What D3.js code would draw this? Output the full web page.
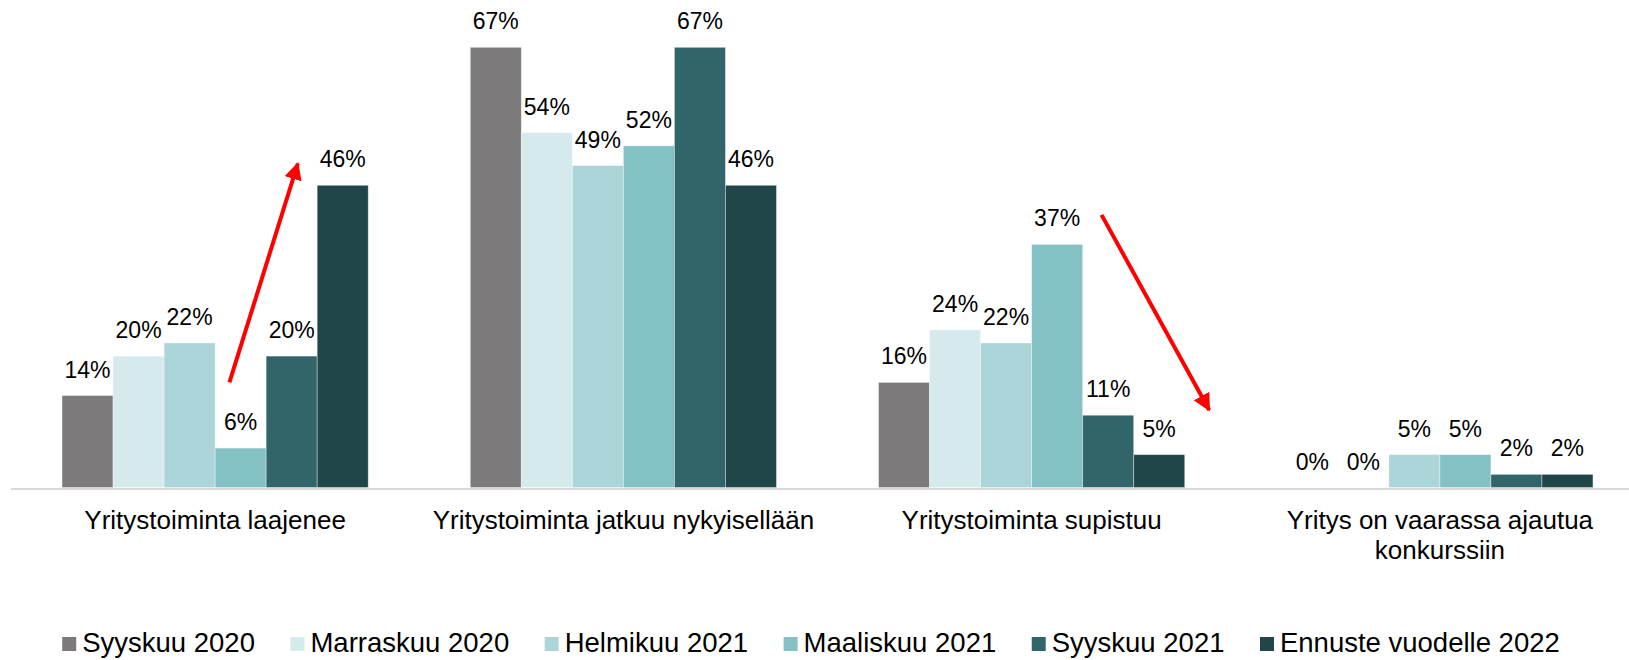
<!DOCTYPE html>
<html>
<head>
<meta charset="utf-8">
<script src="https://cdn.jsdelivr.net/npm/d3@7"></script>
<style>
  html, body { margin: 0; padding: 0; background: #fff; }
  svg { display: block; font-family: "Liberation Sans", Arial, sans-serif; }
</style>
</head>
<body>
<svg id="chart"></svg>
<script>
const categories = [
  ["Yritystoiminta laajenee"],
  ["Yritystoiminta jatkuu nykyisellään"],
  ["Yritystoiminta supistuu"],
  ["Yritys on vaarassa ajautua", "konkurssiin"]
];
const seriesNames = ["Syyskuu 2020", "Marraskuu 2020", "Helmikuu 2021", "Maaliskuu 2021", "Syyskuu 2021", "Ennuste vuodelle 2022"];
const syyskuu2020 = [14, 67, 16, 0];
const marraskuu2020 = [20, 54, 24, 0];
const helmikuu2021 = [22, 49, 22, 5];
const maaliskuu2021 = [6, 52, 37, 5];
const syyskuu2021 = [20, 67, 11, 2];
const ennuste2022 = [46, 46, 5, 2];
const seriesValues = [syyskuu2020, marraskuu2020, helmikuu2021, maaliskuu2021, syyskuu2021, ennuste2022];

// red trend arrows: category index, from (series slot, value) to (series slot, value)
const arrows = [
  { cat: 0, fromSlot: 3.28, fromVal: 16, toSlot: 4.62, toVal: 49.3 },
  { cat: 2, fromSlot: 4.37, fromVal: 41.5, toSlot: 6.48, toVal: 11.8 }
];

document.addEventListener("DOMContentLoaded", () => {
  const width = 1629;
  const height = 660;
  const colors = ["#7d7a7b", "#d5eaec", "#acd5d9", "#84c1c4", "#316569", "#214649"];

  const svg = d3.select("#chart")
    .attr("width", width)
    .attr("height", height)
    .attr("viewBox", [0, 0, width, height]);

  const baseY = 487.5;

  const x0 = d3.scaleBand()
    .domain(d3.range(categories.length))
    .range([11, 1644])
    .paddingInner(0.25)
    .paddingOuter(0.125);

  const x1 = d3.scaleBand()
    .domain(d3.range(seriesNames.length))
    .range([0, x0.bandwidth()]);

  const y = d3.scaleLinear()
    .domain([0, 70])
    .range([baseY, baseY - 70 * 6.57]);

  const slotX = (cat, slot) => x0(cat) + slot * x1.bandwidth();

  // bars
  const groups = svg.append("g")
    .selectAll("g")
    .data(categories.map((c, i) => i))
    .join("g")
    .attr("transform", d => `translate(${x0(d)},0)`);

  groups.selectAll("rect")
    .data(ci => seriesValues.map((vals, si) => ({ si, v: vals[ci] })))
    .join("rect")
    .attr("x", d => x1(d.si))
    .attr("width", x1.bandwidth())
    .attr("y", d => y(d.v))
    .attr("height", d => baseY - y(d.v))
    .attr("fill", d => colors[d.si])
    .attr("stroke", "rgba(255,255,255,0.45)")
    .attr("stroke-width", d => d.v > 0 ? 0.8 : 0);

  // value labels
  groups.selectAll("text")
    .data(ci => seriesValues.map((vals, si) => ({ si, v: vals[ci] })))
    .join("text")
    .attr("x", d => x1(d.si) + x1.bandwidth() / 2)
    .attr("y", d => y(d.v) - 18)
    .attr("text-anchor", "middle")
    .attr("font-size", "23px")
    .attr("fill", "#000")
    .text(d => d.v + "%");

  // axis baseline
  svg.append("line")
    .attr("x1", 11)
    .attr("x2", width)
    .attr("y1", baseY + 1.5)
    .attr("y2", baseY + 1.5)
    .attr("stroke", "#d9d9d9")
    .attr("stroke-width", 2);

  // category labels
  svg.append("g")
    .selectAll("text")
    .data(categories)
    .join("text")
    .attr("x", (d, i) => x0(i) + x0.bandwidth() / 2)
    .attr("y", 529)
    .attr("text-anchor", "middle")
    .attr("font-size", "26px")
    .attr("fill", "#000")
    .selectAll("tspan")
    .data(d => d)
    .join("tspan")
    .attr("x", function () { return d3.select(this.parentNode).attr("x"); })
    .attr("dy", (d, i) => i === 0 ? 0 : 29.5)
    .text(d => d);

  // arrows
  const defs = svg.append("defs");
  defs.append("marker")
    .attr("id", "arrowHead")
    .attr("viewBox", "0 0 10 10")
    .attr("refX", 9)
    .attr("refY", 5)
    .attr("markerWidth", 4.4)
    .attr("markerHeight", 4.4)
    .attr("markerUnits", "strokeWidth")
    .attr("orient", "auto")
    .append("path")
    .attr("d", "M0,0 L10,5 L0,10 Z")
    .attr("fill", "#ff0000");

  svg.append("g")
    .selectAll("line")
    .data(arrows)
    .join("line")
    .attr("x1", d => slotX(d.cat, d.fromSlot))
    .attr("y1", d => y(d.fromVal))
    .attr("x2", d => slotX(d.cat, d.toSlot))
    .attr("y2", d => y(d.toVal))
    .attr("stroke", "#ff0000")
    .attr("stroke-width", 4)
    .attr("marker-end", "url(#arrowHead)");

  // legend
  const legend = svg.append("g");
  const items = legend.selectAll("g")
    .data(seriesNames)
    .join("g");

  items.append("rect")
    .attr("y", 637)
    .attr("width", 14)
    .attr("height", 14)
    .attr("fill", (d, i) => colors[i]);

  items.append("text")
    .attr("x", 20)
    .attr("y", 652)
    .attr("font-size", "27.5px")
    .attr("fill", "#000")
    .text(d => d);

  const gap = 35.5;
  let cx = 0;
  const widths = [];
  items.each(function () {
    const w = 20 + d3.select(this).select("text").node().getComputedTextLength();
    widths.push(cx);
    cx += w + gap;
  });
  const total = cx - gap;
  const startX = 811 - total / 2;
  items.attr("transform", (d, i) => `translate(${startX + widths[i]},0)`);
});
</script>
</body>
</html>
